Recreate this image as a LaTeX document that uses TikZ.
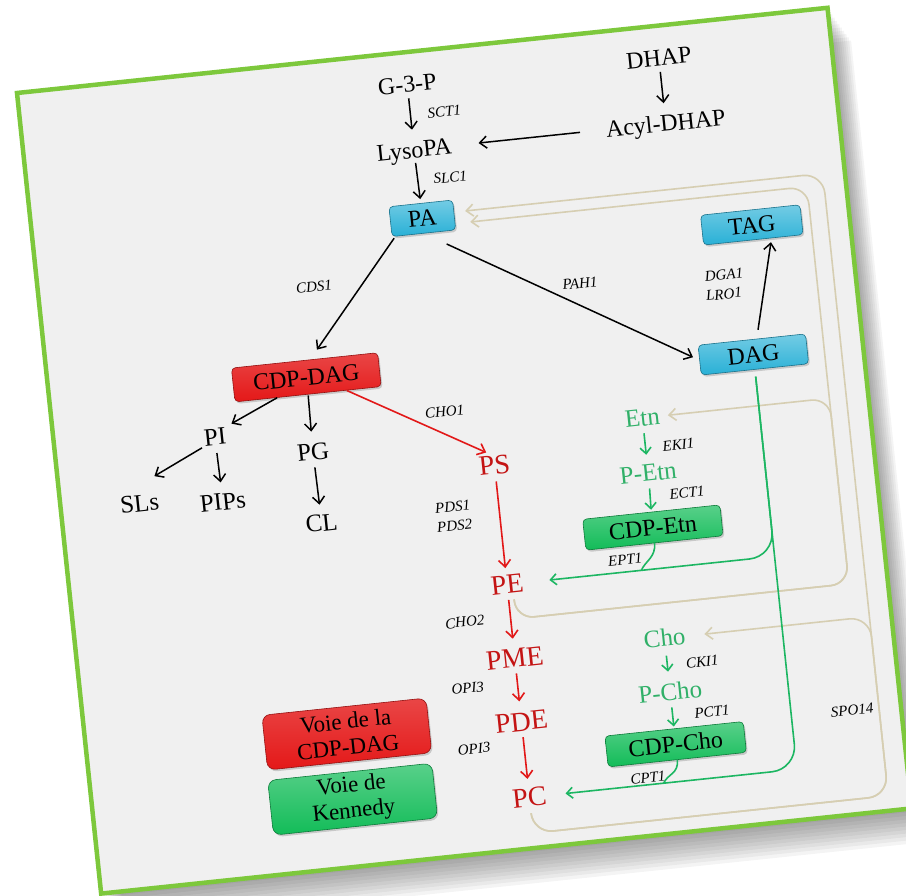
\documentclass[tikz,border=0pt]{standalone}
\usepackage{fontspec}
\setmainfont{Liberation Serif}
\usetikzlibrary{arrows.meta,shadows}
\definecolor{frameg}{RGB}{125,200,60}
\definecolor{bgg}{RGB}{240,240,240}
\definecolor{boxblue}{RGB}{40,176,214}
\definecolor{boxred}{RGB}{228,24,24}
\definecolor{boxgreen}{RGB}{18,188,88}
\definecolor{txtred}{RGB}{196,20,20}
\definecolor{arrred}{RGB}{226,24,24}
\definecolor{txtgreen}{RGB}{48,176,104}
\definecolor{arrgreen}{RGB}{28,182,98}
\definecolor{beige}{RGB}{214,206,178}
\begin{document}
\begin{tikzpicture}[x=1pt,y=-1pt,
  txt/.style={inner sep=0pt, text height=16pt, text depth=0pt, font=\fontsize{24}{26}\selectfont},
  btxt/.style={inner sep=0pt, text height=16.5pt, text depth=0pt, font=\fontsize{25}{27}\selectfont},
  rtxt/.style={inner sep=0pt, text height=18.5pt, text depth=0pt, text=txtred, font=\fontsize{28}{30}\selectfont},
  gtxt/.style={inner sep=0pt, text height=16.5pt, text depth=0pt, text=txtgreen, font=\fontsize{25}{27}\selectfont},
  enz/.style={inner sep=0pt, font=\fontsize{15}{17}\selectfont\itshape},
  basebox/.style={rounded corners=4pt, inner sep=0pt, text height=16pt, text depth=0pt,
    font=\fontsize{24}{26}\selectfont, line width=0.6pt,
    drop shadow={shadow xshift=1.5pt,shadow yshift=-2pt,opacity=0.35}},
  bluebox/.style={basebox, draw=boxblue!65!black, top color=boxblue!65!white, bottom color=boxblue, minimum height=30pt},
  redbox/.style={basebox, draw=boxred!65!black, top color=boxred!80!white, bottom color=boxred, minimum height=34pt},
  greenbox/.style={basebox, draw=boxgreen!65!black, top color=boxgreen!70!white, bottom color=boxgreen, minimum height=31pt},
  legbox/.style={rounded corners=8pt, inner sep=0pt, align=center, font=\fontsize{23}{26}\selectfont,
    minimum width=165pt, minimum height=55pt, line width=0.6pt,
    drop shadow={shadow xshift=1.5pt,shadow yshift=-2pt,opacity=0.35}},
  bar/.style={-{Straight Barb[length=7pt,width=12pt]}, line width=1.5pt, black},
  rar/.style={-{Straight Barb[length=7pt,width=12pt]}, line width=1.6pt, arrred},
  gar/.style={-{Straight Barb[length=6pt,width=11pt]}, line width=1.6pt, arrgreen},
  gline/.style={line width=1.6pt, arrgreen},
  bgar/.style={-{Straight Barb[length=7pt,width=12pt]}, line width=1.6pt, beige},
]
\useasboundingbox (0,0) rectangle (906,896);
\begin{scope}[shift={(17,93)}, rotate=6, transform shape]
  % frame and its shadow
  \foreach \k in {1,...,10} {
    \fill[black, opacity=0.045] (2*\k,3.5*\k) rectangle (815+2*\k,805+3.5*\k);
  }
  \draw[frameg, line width=4.5pt, fill=bgg] (0,0) rectangle (815,805);

  % nodes
  \node[txt] (g3p) at (389,32) {G-3-P};
  \node[txt] (dhap) at (642,32) {DHAP};
  \node[txt] (lysopa) at (389,98) {LysoPA};
  \node[txt] (acyl) at (642,98) {Acyl-DHAP};
  \node[bluebox, minimum width=64pt] (pa) at (390,167) {PA};
  \node[bluebox, minimum width=100pt] (tag) at (717,208) {TAG};
  \node[bluebox, minimum width=108pt] (dag) at (705,337) {DAG};
  \node[redbox, minimum width=147pt] (cdpdag) at (258,313) {CDP-DAG};
  \node[btxt] (pi) at (161,362.5) {PI};
  \node[btxt] (pg) at (257,388) {PG};
  \node[btxt] (sls) at (79,421) {SLs};
  \node[btxt] (pips) at (162,428) {PIPs};
  \node[btxt] (cl) at (258,459.5) {CL};
  \node[rtxt] (ps) at (436,420) {PS};
  \node[rtxt] (pe) at (436,540) {PE};
  \node[rtxt] (pme) at (436,614) {PME};
  \node[rtxt] (pde) at (436,678) {PDE};
  \node[rtxt] (pc) at (436,754) {PC};
  \node[gtxt] (etn) at (588,388.5) {Etn};
  \node[gtxt] (petn) at (588,444) {P-Etn};
  \node[greenbox, minimum width=138pt] (cdpetn) at (587,498.6) {CDP-Etn};
  \node[gtxt] (cho) at (587,610) {Cho};
  \node[gtxt] (pcho) at (587,664) {P-Cho};
  \node[greenbox, minimum width=139pt] (cdpcho) at (587,716.5) {CDP-Cho};
  \node[legbox, draw=boxred!65!black, top color=boxred!80!white, bottom color=boxred] (legred) at (261,672) {Voie de la\\CDP-DAG};
  \node[legbox, draw=boxgreen!65!black, top color=boxgreen!70!white, bottom color=boxgreen] (leggreen) at (260,737.4) {Voie de\\Kennedy};

  % enzyme labels
  \node[enz] (sct1) at (423,63) {SCT1};
  \node[enz] (slc1) at (422,129) {SLC1};
  \node[enz] (cds1) at (275,224) {CDS1};
  \node[enz] (pah1) at (540,248) {PAH1};
  \node[enz] (dga1) at (684,255) {DGA1};
  \node[enz] (lro1) at (682,274) {LRO1};
  \node[enz] (cho1) at (392,362) {CHO1};
  \node[enz] (pds1) at (390,457) {PDS1};
  \node[enz] (pds2) at (390,476) {PDS2};
  \node[enz] (cho2) at (390,573) {CHO2};
  \node[enz] (opi3a) at (386,639) {OPI3};
  \node[enz] (opi3b) at (386,700) {OPI3};
  \node[enz] (eki1) at (621,419) {EKI1};
  \node[enz] (ect1) at (624.5,468) {ECT1};
  \node[enz] (ept1) at (556,528) {EPT1};
  \node[enz] (cki1) at (622,637.5) {CKI1};
  \node[enz] (pct1) at (626.5,688) {PCT1};
  \node[enz] (cpt1) at (556,747) {CPT1};
  \node[enz] (spo14) at (766,701) {SPO14};

  % beige return lines (SPO14)
  \draw[bgar, rounded corners=18pt, shorten <=6pt, shorten >=15pt] (pe.-60) |- (776,575) |- (pa.-15);
  \draw[bgar, rounded corners=18pt, shorten <=6pt, shorten >=8pt] (pe.-60) |- (776,575) |- (etn.east);
  \draw[bgar, rounded corners=20pt, shorten <=7pt, shorten >=11pt] (pc.south) |- (793,790) |- (pa.5);
  \draw[bgar, rounded corners=20pt, shorten <=7pt, shorten >=19pt] (pc.south) |- (793,790) |- (cho.east);

  % black arrows
  \draw[bar, shorten <=6pt, shorten >=12pt] (g3p.south) -- (lysopa.north);
  \draw[bar, shorten <=6pt, shorten >=12pt] (dhap.south) -- (acyl.north);
  \draw[bar, shorten <=26pt, shorten >=27pt] (acyl.west) -- (lysopa.east);
  \draw[bar, shorten <=5pt, shorten >=4pt] (lysopa.south) -- (pa.north);
  \draw[bar, shorten <=2pt, shorten >=12pt] (pa.208.5) -- (cdpdag.72.7);
  \draw[bar, shorten <=25pt, shorten >=7pt] (pa.south) -- (dag.west);
  \draw[bar, shorten <=9pt, shorten >=4pt] (dag.72) -- (tag.-40.7);
  \draw[bar, shorten >=7pt] (cdpdag.209.5) -- (pi.north east);
  \draw[bar, shorten <=1pt, shorten >=12pt] (cdpdag.south) -- (pg.north);
  \draw[bar, shorten <=3pt, shorten >=41pt] (pi.south west) -- (sls.north west);
  \draw[bar, shorten <=8pt, shorten >=11pt] (pi.south) -- (pips.north);
  \draw[bar, shorten <=7pt, shorten >=10pt] (pg.south) -- (cl.north);

  % red arrows
  \draw[rar, shorten >=8pt] (cdpdag.-24.7) -- (ps.north);
  \draw[rar, shorten <=7pt, shorten >=7pt] (ps.south) -- (pe.north);
  \draw[rar, shorten <=6pt, shorten >=10pt] (pe.south) -- (pme.north);
  \draw[rar, shorten <=6pt, shorten >=11pt] (pme.south) -- (pde.north);
  \draw[rar, shorten <=6pt, shorten >=9pt] (pde.south) -- (pc.north);

  % green arrows
  \draw[gar, shorten <=7pt, shorten >=10pt] (etn.south) -- (petn.north);
  \draw[gar, shorten <=7pt, shorten >=2pt] (petn.south) -- (cdpetn.north);
  \draw[gar, shorten <=9pt, shorten >=12pt] (cho.south) -- (pcho.north);
  \draw[gar, shorten <=7pt, shorten >=2pt] (pcho.south) -- (cdpcho.north);
  \draw[gar, rounded corners=25pt, shorten <=7pt, shorten >=19pt] (dag.south) |- (pc.east);
  \draw[gar, rounded corners=25pt, shorten <=7pt, shorten >=26pt] (dag.south) |- (pe.east);
  \coordinate (ej) at (571,540);
  \coordinate (cj) at (571,754);
  \draw[gline] (cdpetn.south) .. controls +(0,14) and +(5,-9) .. (ej);
  \draw[gline] (cdpcho.south) .. controls +(0,14) and +(5,-9) .. (cj);
\end{scope}
\end{tikzpicture}
\end{document}
